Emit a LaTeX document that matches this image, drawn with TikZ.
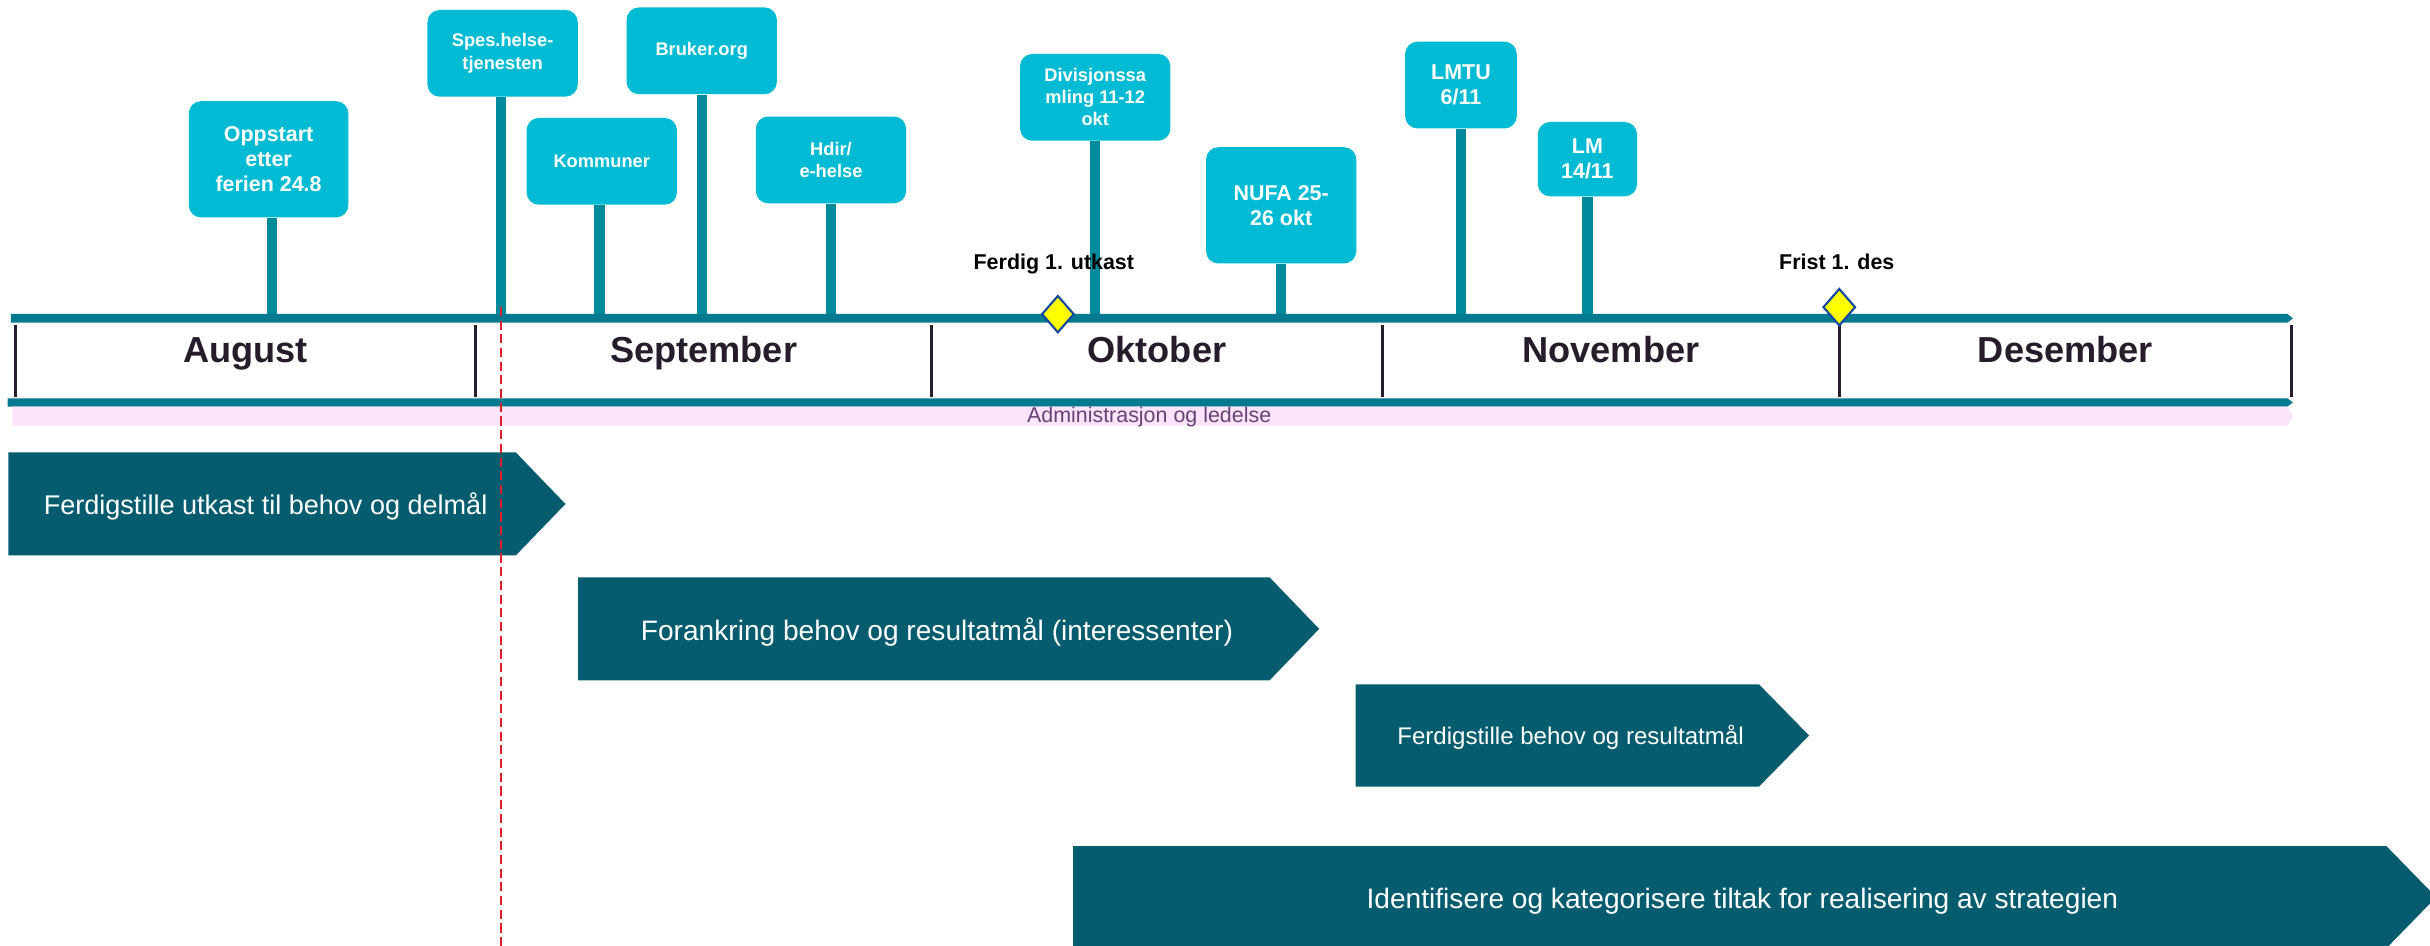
\documentclass[tikz,border=0pt]{standalone}
\usepackage{fontspec}
\setmainfont{Liberation Sans}
\usetikzlibrary{shapes.geometric}

\definecolor{axisteal}{RGB}{3,122,143}
\definecolor{stemteal}{RGB}{0,138,156}
\definecolor{calloutcyan}{RGB}{0,187,211}
\definecolor{chevteal}{RGB}{4,92,110}
\definecolor{monthtext}{RGB}{38,28,44}
\definecolor{dividerdark}{RGB}{38,30,46}
\definecolor{adminpink}{RGB}{252,228,252}
\definecolor{admintext}{RGB}{104,66,118}
\definecolor{msyellow}{RGB}{255,255,0}
\definecolor{msblue}{RGB}{20,72,160}
\definecolor{todayred}{RGB}{222,30,40}

\newcommand{\pu}{0.015497cm}

\tikzset{
  callout/.style={fill=calloutcyan, rounded corners=3.5pt, text=white, align=center, inner sep=0pt,
    font=\bfseries\fontsize{5.2}{6.3}\selectfont},
  bigcallout/.style={callout, font=\bfseries\fontsize{6.1}{7.05}\selectfont},
  stem/.style={stemteal, line width=2.9pt},
  month/.style={anchor=base, text=monthtext, font=\bfseries\fontsize{10.3}{12}\selectfont},
  divider/.style={dividerdark, line width=0.8pt},
  milestone/.style={diamond, fill=msyellow, draw=msblue, line width=0.6pt, inner sep=0pt,
    minimum width=21*\pu, minimum height=24*\pu},
  mslabel/.style={anchor=base, font=\bfseries\fontsize{6.1}{7}\selectfont},
  admin/.style={anchor=base, text=admintext, font=\fontsize{6.1}{7}\selectfont},
  chev/.style={fill=chevteal},
  chevtext/.style={anchor=base, inner sep=0pt, text=white, font=\fontsize{8}{9.6}\selectfont},
  today/.style={todayred, line width=0.45pt, dash pattern=on 2.6pt off 1.3pt}
}

\begin{document}
\begin{tikzpicture}[x=\pu, y=-\pu]
                \useasboundingbox (0,0) rectangle (1568,610.4);
                \clip (0,0) rectangle (1568,610.4);

                \node[bigcallout, minimum width=103*\pu, minimum height=75*\pu] (oppstart) at (173.3,102.8) {Oppstart\\etter\\ferien 24.8};
                \node[callout, minimum width=97*\pu, minimum height=56*\pu] (spes) at (324.3,34.4) {Spes.helse-\\tjenesten};
                \node[callout, minimum width=97*\pu, minimum height=56*\pu] (kommuner) at (388.3,104.1) {Kommuner};
                \node[callout, minimum width=97*\pu, minimum height=56*\pu] (bruker) at (452.8,32.8) {Bruker.org};
                \node[callout, minimum width=97*\pu, minimum height=56*\pu] (hdir) at (536.2,103.2) {Hdir/\\e-helse};
                \node[callout, minimum width=97*\pu, minimum height=56*\pu] (divisjon) at (706.7,62.8) {Divisjonssa\\mling 11-12\\okt};
                \node[bigcallout, minimum width=97*\pu, minimum height=75*\pu] (nufa) at (826.7,132.5) {NUFA 25-\\26 okt};
                \node[bigcallout, minimum width=72*\pu, minimum height=56*\pu] (lmtu) at (942.7,54.9) {LMTU\\6/11};
                \node[bigcallout, minimum width=64*\pu, minimum height=48*\pu] (lm) at (1024.3,102.7) {LM\\14/11};

                \coordinate (axis) at (0,205.4);
                \foreach \cname/\dx in {oppstart/2,spes/-1,kommuner/-1.5,bruker/0,hdir/0,divisjon/0,nufa/0,lmtu/0,lm/0}
                  \draw[stem] ([xshift=\dx*\pu]\cname.south) -- ([xshift=\dx*\pu]\cname.south |- axis);

                \fill[axisteal] (7,202.6) -- (1476,202.6) -- (1479.5,205.4) -- (1476,208.2) -- (7,208.2) -- cycle;
                \fill[axisteal] (5,257) -- (1476,257) -- (1479.5,259.7) -- (1476,262.4) -- (5,262.4) -- cycle;
                \fill[adminpink] (8,262.4) -- (1476,262.4) -- (1479.5,268.5) -- (1476,274.7) -- (8,274.7) -- cycle;

                \foreach \x in {10,307,601,892,1187,1478.5}
                  \draw[divider] (\x,209.5) -- (\x,256);

                \node[month] (aug) at (158.5,234) {August};
                \node[month] (sep) at (454,234) {September};
                \node[month] (okt) at (746.5,234) {Oktober};
                \node[month] (nov) at (1039.5,234) {November};
                \node[month] (des) at (1332.7,234) {Desember};

                \node[admin] (adm) at (741.5,272.5) {Administrasjon og ledelse};

                \node[milestone] (utkastms) at (682.6,202.7) {};
                \node[milestone] (fristms) at (1186.8,198.2) {};
                \node[mslabel] (utkastlbl) at (680,174.2) {Ferdig 1. utkast};
                \node[mslabel] (fristlbl) at (1185.2,174.2) {Frist 1. des};

                \fill[chev] (5.4,291.9) -- (332.8,291.9) -- (364.9,325.2) -- (332.8,358.4) -- (5.4,358.4) -- cycle;
                \fill[chev] (373,372.5) -- (819.2,372.5) -- (851.2,405.8) -- (819.2,439) -- (373,439) -- cycle;
                \fill[chev] (874.8,441.6) -- (1135,441.6) -- (1167.3,474.6) -- (1135,507.6) -- (874.8,507.6) -- cycle;
                \fill[chev] (692.4,545.9) -- (1539.8,545.9) -- (1572,578.9) -- (1539.8,611.9) -- (692.4,611.9) -- cycle;

                \node[chevtext, anchor=base west, font=\fontsize{7.7}{9.2}\selectfont] (utkast) at (27.8,332.3) {Ferdigstille utkast til behov og delmål};
                \node[chevtext] (forankring) at (604.6,413) {Forankring behov og resultatmål (interessenter)};
                \node[chevtext, font=\fontsize{6.85}{8}\selectfont] (ferdig) at (1013.4,480.7) {Ferdigstille behov og resultatmål};
                \node[chevtext] (tiltak) at (1124.3,586.1) {Identifisere og kategorisere tiltak for realisering av strategien};

                \coordinate (todaytop) at (323.3,198);
                \coordinate (todaybot) at (323.3,612);
                \draw[today] (todaytop) -- (todaybot);
\end{tikzpicture}
\end{document}
